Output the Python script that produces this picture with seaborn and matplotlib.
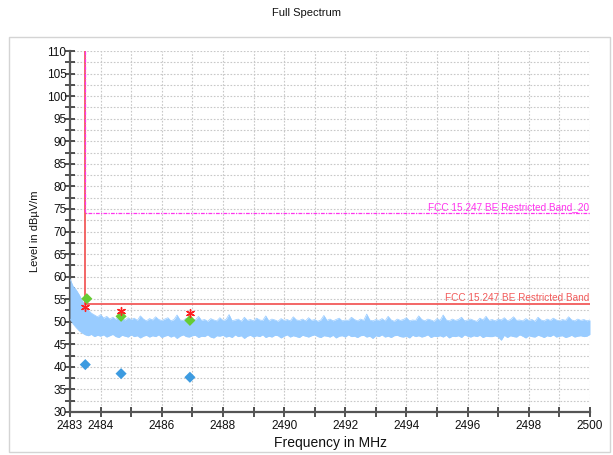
import numpy as np
import pandas as pd
import seaborn as sns
import matplotlib
matplotlib.use("Agg")
import matplotlib.pyplot as plt
from matplotlib.patches import Rectangle
from matplotlib.ticker import MultipleLocator

# Spectrum envelope sampled every 0.1 MHz from 2483.0 to 2500.0 MHz
freq_start, freq_stop, freq_step = 2483.0, 2500.0, 0.1
trace_upper = [
    59.5, 57.9, 57.1, 56.0, 54.7, 53.5, 52.6, 51.9, 51.5, 51.1,
    51.6, 50.8, 51.2, 50.6, 51.0, 50.5, 51.4, 50.7, 50.4, 50.9,
    50.5, 50.8, 50.3, 51.3, 50.6, 50.2, 50.7, 50.4, 51.1, 50.5,
    50.3, 50.6, 50.9, 50.2, 50.5, 51.5, 50.4, 50.3, 50.8, 50.2,
    50.6, 50.4, 51.2, 50.3, 50.5, 50.1, 50.7, 50.4, 50.2, 50.9,
    50.3, 50.5, 51.6, 50.2, 50.4, 50.6, 50.1, 51.0, 50.3, 50.5,
    50.2, 50.8, 50.4, 50.3, 51.3, 50.2, 50.6, 50.4, 50.1, 50.7,
    50.3, 50.5, 50.2, 51.1, 50.4, 50.3, 50.6, 50.2, 50.9, 50.3,
    50.5, 50.1, 50.4, 51.4, 50.3, 50.6, 50.2, 50.5, 50.8, 50.2,
    50.4, 50.3, 51.0, 50.5, 50.2, 50.6, 50.3, 51.7, 50.4, 50.2,
    50.5, 50.3, 50.7, 50.2, 51.2, 50.4, 50.1, 50.6, 50.3, 50.5,
    50.9, 50.2, 50.4, 50.3, 51.3, 50.5, 50.2, 50.6, 50.4, 50.1,
    50.7, 50.3, 51.5, 50.4, 50.2, 50.6, 50.3, 50.5, 51.0, 50.2,
    50.4, 50.6, 50.3, 50.1, 50.8, 50.4, 51.2, 50.3, 50.5, 50.2,
    50.6, 50.4, 50.9, 50.2, 50.5, 51.1, 50.3, 50.4, 50.2, 50.7,
    50.3, 50.5, 50.1, 51.0, 50.4, 50.2, 50.6, 50.3, 50.8, 50.4,
    50.2, 50.5, 50.3, 51.1, 50.4, 50.2, 50.6, 50.3, 50.5, 50.2, 50.4,
]
trace_lower = [
    50.6, 49.5, 48.7, 48.0, 47.5, 47.1, 46.9, 47.2, 46.7, 47.0,
    46.8, 47.1, 46.6, 46.9, 47.2, 46.7, 46.5, 47.0, 46.8, 46.6,
    47.1, 46.7, 46.9, 46.4, 46.8, 47.0, 46.6, 46.9, 46.7, 47.1,
    46.5, 46.8, 47.0, 46.6, 46.9, 46.3, 46.8, 47.1, 46.7, 46.6,
    46.9, 47.0, 46.5, 46.8, 46.7, 47.1, 46.6, 46.4, 46.9, 46.8,
    47.0, 46.6, 46.8, 46.5, 47.1, 46.7, 46.9, 46.3, 46.8, 47.0,
    46.6, 46.9, 46.7, 47.1, 46.5, 46.8, 46.6, 47.0, 46.9, 46.4,
    46.8, 47.1, 46.6, 46.9, 46.7, 46.5, 47.0, 46.8, 46.6, 46.9,
    47.1, 46.7, 46.5, 46.9, 46.8, 46.6, 47.0, 46.4, 46.8, 46.9,
    46.6, 47.1, 46.7, 46.8, 46.5, 46.9, 47.0, 46.6, 46.8, 46.3,
    46.9, 46.7, 47.1, 46.6, 46.8, 46.5, 46.9, 47.0, 46.7, 46.6,
    46.8, 46.4, 47.0, 46.7, 46.9, 46.6, 46.8, 47.1, 46.5, 46.8,
    46.7, 46.9, 46.6, 47.0, 46.4, 46.8, 46.7, 46.9, 46.5, 47.1,
    46.8, 46.6, 46.9, 46.7, 47.0, 46.5, 46.8, 46.7, 46.7, 46.9,
    46.6, 45.9, 47.0, 46.5, 46.9, 46.7, 46.6, 47.1, 46.8, 46.4,
    46.9, 46.7, 46.6, 47.0, 46.8, 46.5, 46.9, 46.7, 47.1, 46.6,
    46.8, 46.9, 46.5, 46.7, 47.0, 46.6, 46.8, 46.9, 46.7, 46.8, 47.2,
]

# Measured final points
peak_freq = [2483.5, 2484.67, 2486.92]
peak_level = [53.3, 52.3, 52.0]
qp_freq = [2483.55, 2484.67, 2486.92]
qp_level = [55.1, 51.2, 50.3]
avg_freq = [2483.5, 2484.67, 2486.92]
avg_level = [40.5, 38.5, 37.7]

# Limit lines
band_edge = 2483.5
limit_peak = 74.0
limit_avg = 54.0
limit_peak_label = "FCC 15.247 BE Restricted Band_20"
limit_avg_label = "FCC 15.247 BE Restricted Band"

x_ticks = [2483, 2484, 2486, 2488, 2490, 2492, 2494, 2496, 2498, 2500]
y_min, y_max = 30, 110

sns.set_theme(style="white")
plt.rcParams["font.family"] = ["Liberation Sans", "DejaVu Sans"]

freq = np.round(np.arange(freq_start, freq_stop + freq_step / 2, freq_step), 2)
trace = pd.DataFrame({"freq": freq, "upper": trace_upper, "lower": trace_lower})

fig = plt.figure(figsize=(6.13, 4.55), dpi=100)
fig.patch.set_facecolor("white")
fig.patches.append(Rectangle((9 / 613, 3 / 455), 601 / 613, 415 / 455,
                             transform=fig.transFigure, fill=False,
                             edgecolor="#d4d4d4", linewidth=1.0))

ax = fig.add_axes([70 / 613, 1 - 412 / 455, 520 / 613, 361 / 455])
ax.set_facecolor("white")

spec_color = "#99ccff"
ax.fill_between(trace["freq"], trace["lower"], trace["upper"],
                color=spec_color, linewidth=0, zorder=3)
sns.lineplot(data=trace, x="freq", y="upper", ax=ax, color=spec_color,
             linewidth=0.5, zorder=3, legend=False)
sns.lineplot(data=trace, x="freq", y="lower", ax=ax, color=spec_color,
             linewidth=0.5, zorder=3, legend=False)

# Limits
red = "#f25a5a"
magenta = "#ff33ee"
ax.plot([band_edge, band_edge, freq_stop], [y_max, limit_avg, limit_avg],
        color=red, linewidth=1.3, zorder=4)
ax.plot([band_edge, band_edge, freq_stop], [y_max, limit_peak, limit_peak],
        color=magenta, linewidth=0.9, linestyle=(0, (3, 1, 1, 1)), zorder=4)
ax.text(freq_stop - 0.02, limit_peak + 0.2, limit_peak_label, color=magenta,
        fontsize=7.2, ha="right", va="bottom", zorder=5)
ax.text(freq_stop - 0.02, limit_avg + 0.2, limit_avg_label, color=red,
        fontsize=7.2, ha="right", va="bottom", zorder=5)

# Final measurement markers
sns.scatterplot(x=avg_freq, y=avg_level, ax=ax, marker="D", s=32,
                color="#3d9be0", edgecolor="none", zorder=6)
sns.scatterplot(x=qp_freq, y=qp_level, ax=ax, marker="D", s=32,
                color="#66cc33", edgecolor="none", zorder=6)
sns.scatterplot(x=peak_freq, y=peak_level, ax=ax, marker=(6, 2, 0), s=32,
                color="#ff2020", linewidth=1.0, zorder=7)

ax.set_xlim(freq_start, freq_stop)
ax.set_ylim(y_min, y_max)
ax.set_xticks(x_ticks)
ax.set_xticklabels([str(t) for t in x_ticks])
ax.xaxis.set_minor_locator(MultipleLocator(1))
ax.yaxis.set_major_locator(MultipleLocator(5))
ax.yaxis.set_minor_locator(MultipleLocator(2.5))

ax.grid(True, which="both", color="#c8c8c8", linestyle=(0, (1.5, 1.5)),
        linewidth=0.8, zorder=0)
ax.set_axisbelow(True)

for side in ("top", "right"):
    ax.spines[side].set_visible(False)
for side in ("left", "bottom"):
    ax.spines[side].set_color("#555555")
    ax.spines[side].set_linewidth(1.6)

ax.tick_params(axis="both", which="both", direction="inout", length=7,
               width=1.2, color="#333333", labelsize=8.5, labelcolor="#111111",
               bottom=True, left=True)
ax.tick_params(axis="y", pad=-1)
ax.tick_params(axis="x", pad=2.5)

ax.set_xlabel("Frequency in MHz", fontsize=10, color="#111111", labelpad=3)
ax.set_ylabel("Level in dBµV/m", fontsize=8, color="#111111", labelpad=5)
fig.text(0.5, 1 - 13 / 455, "Full Spectrum", ha="center", va="center",
         fontsize=8, color="#111111")

fig.savefig("out.png", dpi=100)
